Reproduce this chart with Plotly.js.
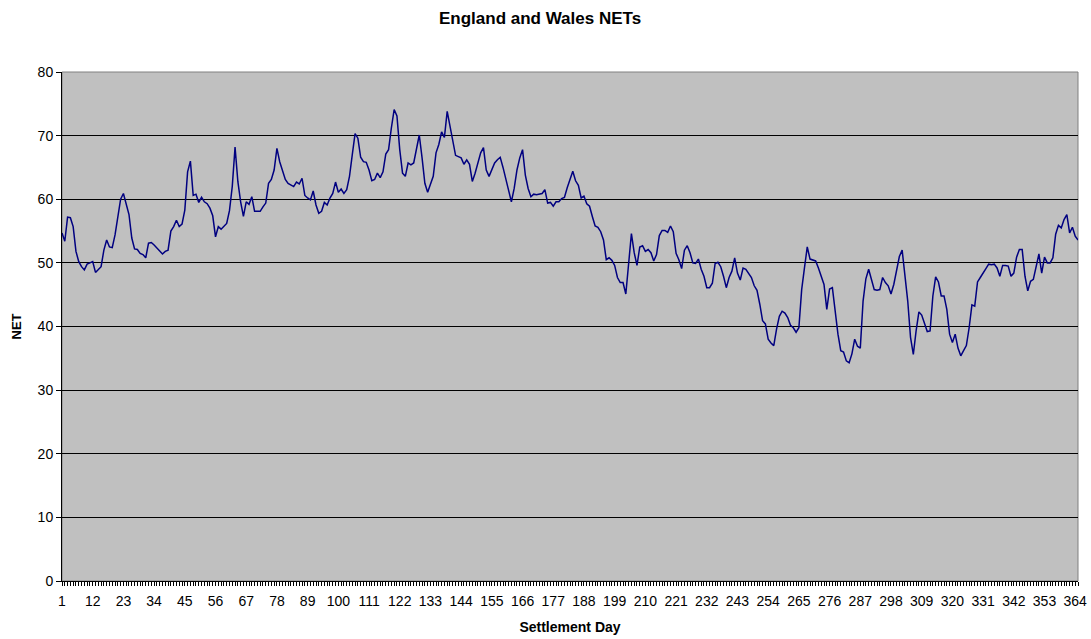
<!DOCTYPE html>
<html>
<head>
<meta charset="utf-8">
<script src="https://cdn.plot.ly/plotly-3.0.1.min.js"></script>
<style>
  html, body { margin: 0; padding: 0; background: #fff; }
  #chart { width: 1091px; height: 639px; }
</style>
</head>
<body>
<div id="chart"></div>
<script>
// NET value per settlement day (day 1 .. 365)
const netValues = [
  54.7, 53.4, 57.2, 57.1, 55.7, 51.8, 50.2, 49.4, 48.9, 49.8,
  50.0, 50.2, 48.5, 49.0, 49.4, 52.0, 53.6, 52.5, 52.4, 54.4,
  57.5, 60.0, 60.9, 59.1, 57.6, 53.9, 52.2, 52.1, 51.5, 51.3,
  50.8, 53.1, 53.2, 52.8, 52.3, 51.8, 51.4, 51.8, 52.0, 55.0,
  55.7, 56.7, 55.7, 56.1, 58.3, 64.3, 66.0, 60.6, 60.8, 59.5,
  60.3, 59.6, 59.3, 58.6, 57.4, 54.1, 55.7, 55.3, 55.7, 56.2,
  58.2, 62.0, 68.2, 62.8, 59.6, 57.3, 59.6, 59.2, 60.4, 58.1,
  58.1, 58.1, 58.8, 59.4, 62.5, 63.1, 64.6, 68.0, 65.9, 64.4,
  63.1, 62.5, 62.3, 62.0, 62.7, 62.4, 63.3, 60.6, 60.2, 59.9,
  61.3, 59.1, 57.8, 58.1, 59.5, 59.1, 60.2, 60.9, 62.7, 61.1,
  61.6, 60.9, 61.5, 63.6, 67.0, 70.3, 69.6, 66.6, 65.9, 65.8,
  64.6, 62.9, 63.1, 64.1, 63.4, 64.3, 67.1, 67.8, 71.2, 74.1,
  73.1, 67.8, 64.1, 63.6, 65.7, 65.4, 65.7, 67.8, 70.1, 66.5,
  62.5, 61.1, 62.3, 63.6, 67.3, 68.6, 70.6, 69.7, 73.8, 71.5,
  69.1, 66.9, 66.7, 66.5, 65.5, 66.2, 65.5, 62.8, 64.1, 65.7,
  67.3, 68.1, 64.6, 63.6, 64.8, 65.7, 66.2, 66.6, 65.0, 63.1,
  61.6, 59.6, 61.7, 64.6, 66.5, 67.8, 63.8, 61.7, 60.4, 60.8,
  60.7, 60.8, 60.9, 61.5, 59.4, 59.5, 58.9, 59.6, 59.6, 60.1,
  60.3, 61.8, 63.0, 64.4, 62.9, 62.2, 60.2, 60.5, 59.3, 58.9,
  57.3, 55.8, 55.6, 54.9, 53.6, 50.5, 50.8, 50.4, 49.6, 47.7,
  46.9, 46.9, 45.1, 50.0, 54.6, 51.6, 49.6, 52.5, 52.7, 51.8,
  52.1, 51.6, 50.3, 51.3, 54.3, 55.1, 55.1, 54.8, 55.8, 54.9,
  51.5, 50.5, 49.1, 52.0, 52.7, 51.6, 50.0, 49.9, 50.6, 49.0,
  47.9, 46.1, 46.1, 46.8, 49.9, 50.1, 49.4, 47.9, 46.1, 47.7,
  48.7, 50.8, 48.4, 47.3, 49.2, 49.0, 48.4, 47.7, 46.4, 45.7,
  43.5, 40.9, 40.4, 38.0, 37.4, 37.0, 39.6, 41.6, 42.4, 42.1,
  41.4, 40.2, 39.8, 39.1, 39.8, 45.8, 49.2, 52.5, 50.6, 50.4,
  50.3, 49.2, 47.9, 46.6, 42.7, 45.9, 46.1, 42.4, 38.8, 36.2,
  36.0, 34.6, 34.3, 35.7, 38.0, 36.9, 36.6, 44.0, 47.5, 49.0,
  47.4, 45.8, 45.7, 45.8, 47.7, 46.9, 46.4, 45.1, 46.6, 49.0,
  51.0, 52.0, 47.5, 44.0, 38.3, 35.6, 39.3, 42.3, 41.8, 40.6,
  39.2, 39.3, 44.8, 47.8, 47.0, 44.8, 44.8, 42.7, 38.8, 37.5,
  38.8, 36.6, 35.4, 36.2, 37.0, 39.8, 43.4, 43.2, 47.0, 47.7,
  48.3, 49.1, 49.8, 49.7, 49.8, 49.2, 47.9, 49.6, 49.6, 49.5,
  47.9, 48.4, 50.9, 52.1, 52.1, 47.9, 45.6, 47.1, 47.4, 49.2,
  51.4, 48.4, 50.9, 50.0, 50.0, 50.8, 54.5, 55.9, 55.5, 56.8,
  57.6, 54.7, 55.6, 54.2, 53.6
];

// settlement days 1..365 (category index)
const days = netValues.map((_, i) => i + 1);

// labelled days on the x axis
const tickDays = [1, 12, 23, 34, 45, 56, 67, 78, 89, 100, 111, 122, 133, 144, 155,
  166, 177, 188, 199, 210, 221, 232, 243, 254, 265, 276, 287, 298, 309, 320, 331,
  342, 353, 364];

const font = 'Liberation Sans, Arial, sans-serif';

let data = [
  {
    x: days,
    y: netValues,
    type: 'scatter',
    mode: 'lines',
    name: 'NET',
    line: {color: '#000080', width: 1.5},
    hoverinfo: 'x+y'
  }
];

let layout = {
  width: 1091,
  height: 639,
  paper_bgcolor: '#ffffff',
  plot_bgcolor: '#c0c0c0',
  margin: {l: 62, r: 13, t: 72, b: 58},
  showlegend: false,
  font: {family: font, size: 14, color: '#000'},
  title: {
    text: '<b>England and Wales NETs</b>',
    font: {family: font, size: 17, color: '#000'},
    xref: 'container', x: 0.495, xanchor: 'center',
    yref: 'container', y: 0.971, yanchor: 'middle'
  },
  xaxis: {
    title: {text: '<b>Settlement Day</b>', font: {family: font, size: 14}, standoff: 14},
    range: [1, 365],
    tickmode: 'array',
    tickvals: tickDays,
    ticktext: tickDays.map(String),
    ticks: 'outside',
    ticklen: 4,
    tickcolor: '#000',
    tickfont: {family: font, size: 14},
    ticklabelstandoff: 3,
    minor: {tick0: 1, dtick: 1, ticks: 'outside', ticklen: 4, tickcolor: '#000', showgrid: false},
    showline: true,
    linecolor: '#000',
    linewidth: 1,
    showgrid: false,
    zeroline: false,
    fixedrange: true
  },
  yaxis: {
    title: {text: '<b>NET</b>', font: {family: font, size: 13}, standoff: 13},
    range: [0, 80],
    dtick: 10,
    ticks: 'outside',
    ticklen: 5,
    tickcolor: '#000',
    tickfont: {family: font, size: 14},
    showline: true,
    linecolor: '#000',
    linewidth: 1,
    showgrid: true,
    gridcolor: '#000',
    gridwidth: 1,
    zeroline: false,
    fixedrange: true
  },
  shapes: [
    // grey frame on the top and right of the plot area
    {type: 'rect', xref: 'paper', yref: 'paper', x0: 0, x1: 1, y0: 0, y1: 1,
     line: {color: '#808080', width: 1}, layer: 'below'}
  ]
};

Plotly.newPlot('chart', data, layout, {displayModeBar: false, staticPlot: true});
</script>
</body>
</html>
